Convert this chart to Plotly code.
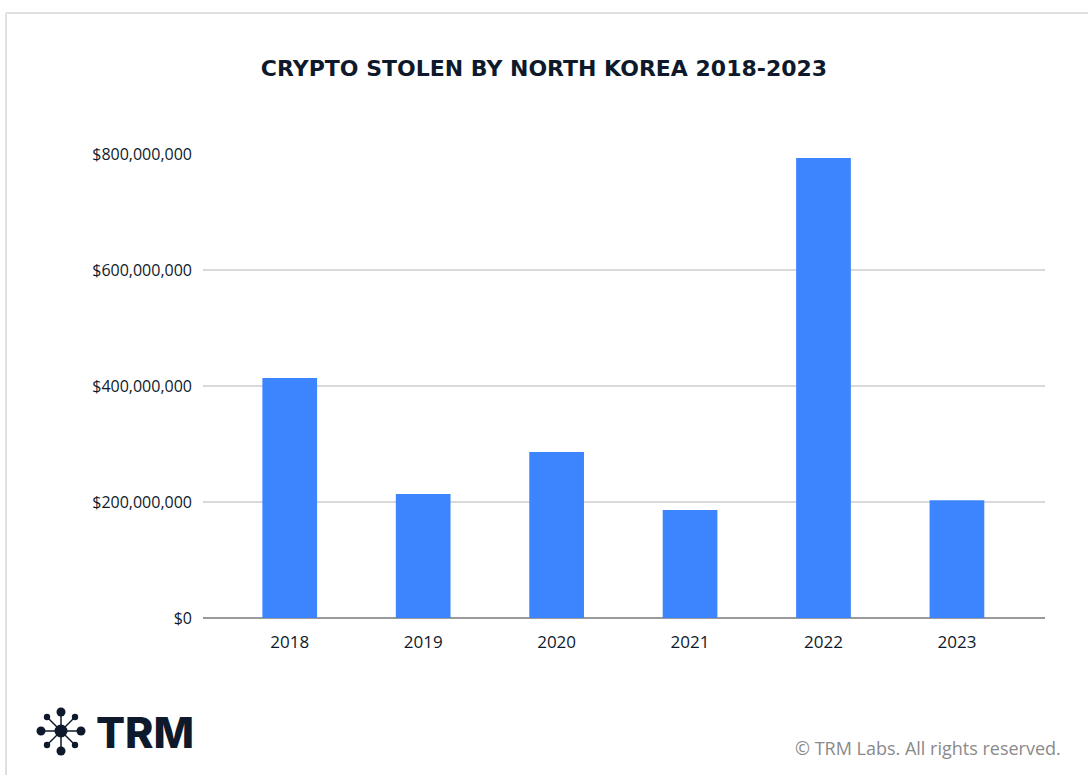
import plotly.graph_objects as go

years = ["2018", "2019", "2020", "2021", "2022", "2023"]
stolen_usd = [414e6, 214e6, 286e6, 186e6, 793e6, 203e6]
y_ticks = [0, 200e6, 400e6, 600e6, 800e6]

W, H = 1088, 775
L, R, T, B = 203, 1045, 154, 618  # plot area in pixels

def px(x):
    return (x - L) / (R - L)

def py(y):
    return (B - y) / (B - T)

DARK = "#0e1a2b"
fig = go.Figure(go.Bar(x=years, y=stolen_usd, marker_color="#3d84ff",
                       marker_line_width=0, width=0.41))

shapes = []
# outer border (top and left)
shapes.append(dict(type="line", xref="paper", yref="paper", x0=px(6), x1=px(1088),
                   y0=py(13), y1=py(13), line=dict(color="#e0e0e0", width=2)))
shapes.append(dict(type="line", xref="paper", yref="paper", x0=px(6), x1=px(6),
                   y0=py(13), y1=py(775), line=dict(color="#e0e0e0", width=2)))
# logo icon
cx, cy = 61, 731
spokes = [(61, 712, 4.5), (61, 751, 4.5), (41, 731, 4.5), (81, 731, 4.5),
          (47, 717, 3.2), (75, 717, 3.2), (47, 745, 3.2), (75, 745, 3.2)]
for (x, y, r) in spokes:
    shapes.append(dict(type="line", xref="paper", yref="paper", x0=px(cx), y0=py(cy),
                       x1=px(x), y1=py(y), line=dict(color=DARK, width=1.5)))
for (x, y, r) in spokes + [(cx, cy, 6.5)]:
    shapes.append(dict(type="circle", xref="paper", yref="paper", x0=px(x - r), x1=px(x + r),
                       y0=py(y + r), y1=py(y - r), fillcolor=DARK, line=dict(width=0)))

annotations = [
    dict(text="TRM", xref="paper", yref="paper", x=px(94), y=py(732),
         xanchor="left", yanchor="middle", showarrow=False,
         font=dict(family="Inter", size=43, weight=800, color=DARK)),
    dict(text="© TRM Labs. All rights reserved.", xref="paper", yref="paper",
         x=px(1063), y=py(748), xanchor="right", yanchor="middle", showarrow=False,
         font=dict(family="Open Sans", size=18, color="#8a8a8a")),
]

fig.update_layout(
    width=W, height=H,
    margin=dict(l=L, r=W - R, t=T, b=H - B),
    paper_bgcolor="white", plot_bgcolor="white",
    title=dict(text="CRYPTO STOLEN BY NORTH KOREA 2018-2023", x=0.5, xanchor="center",
               y=1 - 68 / H, yanchor="middle",
               font=dict(family="DejaVu Sans", size=22, weight=700, color=DARK)),
    font=dict(family="Open Sans", color=DARK, size=16),
    bargap=0.59,
    showlegend=False,
    shapes=shapes,
    annotations=annotations,
    xaxis=dict(range=[-0.65, 5.66], showgrid=False, ticks="", showline=False,
               ticklabelstandoff=12,
               tickfont=dict(size=17, weight=500, color=DARK)),
    yaxis=dict(range=[0, 800e6], tickvals=y_ticks, tickformat="$,.0f",
               showgrid=True, gridcolor="#d9d9d9", gridwidth=1.5,
               zeroline=True, zerolinecolor="#9a9a9a", zerolinewidth=1.5,
               ticks="", ticklabelstandoff=10,
               tickfont=dict(size=16, weight=500, color=DARK)),
)

fig.write_html("out.html")
